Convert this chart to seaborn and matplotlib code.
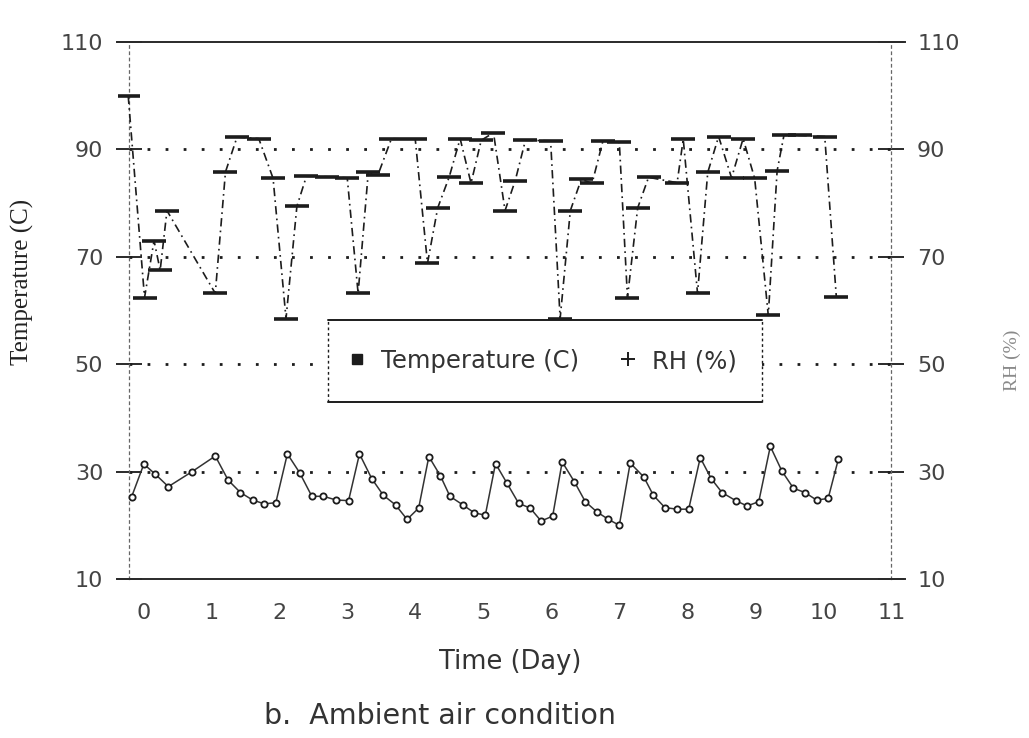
import matplotlib
matplotlib.use("Agg")
import matplotlib.pyplot as plt
import seaborn as sns
import pandas as pd
from matplotlib.lines import Line2D
from matplotlib.patches import Rectangle

# ---------------- data ----------------
rh_day = [-0.22, 0.02, 0.16, 0.25, 0.35, 1.06, 1.21, 1.38, 1.70, 1.91,
          2.10, 2.26, 2.40, 2.70, 3.00, 3.16, 3.31, 3.45, 3.65, 4.00,
          4.18, 4.33, 4.50, 4.66, 4.82, 4.97, 5.15, 5.32, 5.47, 5.62,
          5.99, 6.13, 6.28, 6.44, 6.60, 6.76, 7.00, 7.12, 7.27, 7.43,
          7.85, 7.94, 8.15, 8.30, 8.46, 8.65, 8.82, 8.99, 9.19, 9.32,
          9.42, 9.66, 10.02, 10.19]
rh_val = [100.0, 62.4, 73.0, 67.5, 78.6, 63.2, 85.8, 92.3, 92.0, 84.6,
          58.5, 79.4, 85.0, 84.9, 84.7, 63.2, 85.8, 85.2, 92.0, 91.9,
          68.8, 79.1, 84.9, 92.0, 83.7, 91.7, 93.1, 78.6, 84.2, 91.7,
          91.6, 58.5, 78.6, 84.4, 83.7, 91.6, 91.3, 62.4, 79.1, 84.8,
          83.8, 91.9, 63.2, 85.7, 92.4, 84.7, 92.0, 84.6, 59.1, 86.0,
          92.6, 92.6, 92.4, 62.6]

t_day = [-0.17, 0.01, 0.18, 0.37, 0.72, 1.06, 1.25, 1.43, 1.61, 1.78,
         1.95, 2.12, 2.30, 2.48, 2.65, 2.84, 3.02, 3.18, 3.36, 3.53,
         3.71, 3.88, 4.05, 4.20, 4.37, 4.51, 4.70, 4.87, 5.03, 5.18,
         5.35, 5.52, 5.69, 5.85, 6.02, 6.16, 6.34, 6.50, 6.67, 6.84,
         7.00, 7.16, 7.36, 7.50, 7.67, 7.85, 8.02, 8.19, 8.35, 8.51,
         8.71, 8.88, 9.05, 9.22, 9.39, 9.56, 9.73, 9.90, 10.07, 10.22]
t_val = [25.3, 31.4, 29.5, 27.2, 30.0, 32.9, 28.4, 26.1, 24.7, 24.0,
         24.2, 33.3, 29.8, 25.4, 25.4, 24.7, 24.6, 33.3, 28.7, 25.6,
         23.8, 21.1, 23.2, 32.8, 29.2, 25.4, 23.8, 22.3, 21.9, 31.5,
         27.8, 24.1, 23.2, 20.8, 21.7, 31.8, 28.1, 24.4, 22.5, 21.1,
         20.0, 31.6, 29.0, 25.6, 23.3, 23.0, 23.0, 32.6, 28.7, 26.1,
         24.6, 23.6, 24.4, 34.7, 30.1, 26.9, 26.1, 24.7, 25.0, 32.3]

y_ticks = [10, 30, 50, 70, 90, 110]
x_ticks = list(range(0, 12))
grid_levels = [30, 50, 70, 90]

rh_df = pd.DataFrame({"day": rh_day, "value": rh_val})
t_df = pd.DataFrame({"day": t_day, "value": t_val})

# ---------------- figure ----------------
sns.set_theme(style="white")
plt.rcParams["font.family"] = ["DejaVu Sans"]

W, H = 1029, 738
fig = plt.figure(figsize=(W / 100, H / 100), dpi=100)
ax = fig.add_axes([118 / W, 1 - 579 / H, (905 - 118) / W, (579 - 42) / H])
ax.set_xlim(-0.37, 11.2)
ax.set_ylim(10, 110)

ink = "#1c1c1c"

# dotted reference lines
ax.hlines(grid_levels, -0.21, 11.0, colors=ink, linestyles=(0, (1, 5.5)),
          linewidth=2.0, zorder=1)

# RH series (upper)
sns.lineplot(data=rh_df, x="day", y="value", ax=ax, estimator=None,
             color=ink, linewidth=1.2, linestyle=(0, (5, 2.5, 1, 2.5)),
             marker="_", markersize=17, markeredgewidth=2.6,
             markeredgecolor=ink, zorder=3)

# Temperature series (lower)
sns.lineplot(data=t_df, x="day", y="value", ax=ax, estimator=None,
             color="#333333", linewidth=1.1,
             marker="o", markersize=4.5, markerfacecolor="white",
             markeredgecolor=ink, markeredgewidth=1.3, zorder=3)

# spines: solid top/bottom, dashed left/right axes
for s in ["top", "bottom"]:
    ax.spines[s].set_visible(True)
    ax.spines[s].set_color("#2a2a2a")
    ax.spines[s].set_linewidth(1.4)
ax.spines["left"].set_position(("data", -0.21))
ax.spines["right"].set_position(("data", 11.0))
for s in ["left", "right"]:
    ax.spines[s].set_visible(True)
    ax.spines[s].set_color("#666666")
    ax.spines[s].set_linewidth(0.9)
    ax.spines[s].set_linestyle((0, (2, 3)))

ax.set_yticks(y_ticks)
ax.set_yticklabels([str(v) for v in y_ticks])
ax.yaxis.set_ticks_position("both")
ax.tick_params(axis="y", which="both", direction="inout", length=19,
               width=1.4, color="#2a2a2a", labelsize=16, pad=9,
               labelleft=True, labelright=True, labelcolor="#444444")
ax.set_xticks(x_ticks)
ax.set_xticklabels([str(v) for v in x_ticks])
ax.tick_params(axis="x", length=0, labelsize=16, pad=17,
               labelcolor="#444444")
ax.set_xlabel("")
ax.set_ylabel("")

# legend box (solid top/bottom, dashed sides)
lx0, lx1 = (328 - 118) / 787, (762 - 118) / 787
ly0, ly1 = (579 - 402) / 537, (579 - 320) / 537
ax.add_patch(Rectangle((lx0, ly0), lx1 - lx0, ly1 - ly0, transform=ax.transAxes,
                       facecolor="white", edgecolor="none", zorder=4))
for yy in (ly0, ly1):
    ax.add_line(Line2D([lx0, lx1], [yy, yy], transform=ax.transAxes,
                       color=ink, linewidth=1.4, zorder=5))
for xx in (lx0, lx1):
    ax.add_line(Line2D([xx, xx], [ly0, ly1], transform=ax.transAxes,
                       color=ink, linewidth=1.0, linestyle=(0, (2, 2)),
                       zorder=5))
handles = [Line2D([], [], linestyle="none", marker="s", markersize=7,
                  color=ink),
           Line2D([], [], linestyle="none", marker="+", markersize=10,
                  markeredgewidth=1.4, color=ink)]
leg = ax.legend(handles, ["Temperature (C)", "RH (%)"], loc="center",
                bbox_to_anchor=((lx0 + lx1) / 2 - 0.004, (ly0 + ly1) / 2),
                ncol=2, frameon=False, fontsize=17.5, handlelength=0.8,
                handletextpad=0.6, columnspacing=1.6)
leg.set_zorder(6)
for t in leg.get_texts():
    t.set_color("#333333")

# axis titles and caption
fig.text(22 / W, 1 - 282 / H, "Temperature (C)", rotation=90, ha="center",
         va="center", fontsize=18, family="Liberation Serif", color="#222222")
fig.text(1012 / W, 1 - 360 / H, "RH (%)", rotation=90, ha="center",
         va="center", fontsize=14, family="Liberation Serif", color="#8a8a8a")
fig.text(510 / W, 1 - 662 / H, "Time (Day)", ha="center", va="center",
         fontsize=18.5, color="#333333")
fig.text(440 / W, 1 - 716 / H, "b.  Ambient air condition", ha="center",
         va="center", fontsize=20.5, color="#333333")

fig.savefig("out.png", dpi=100, facecolor="white")
